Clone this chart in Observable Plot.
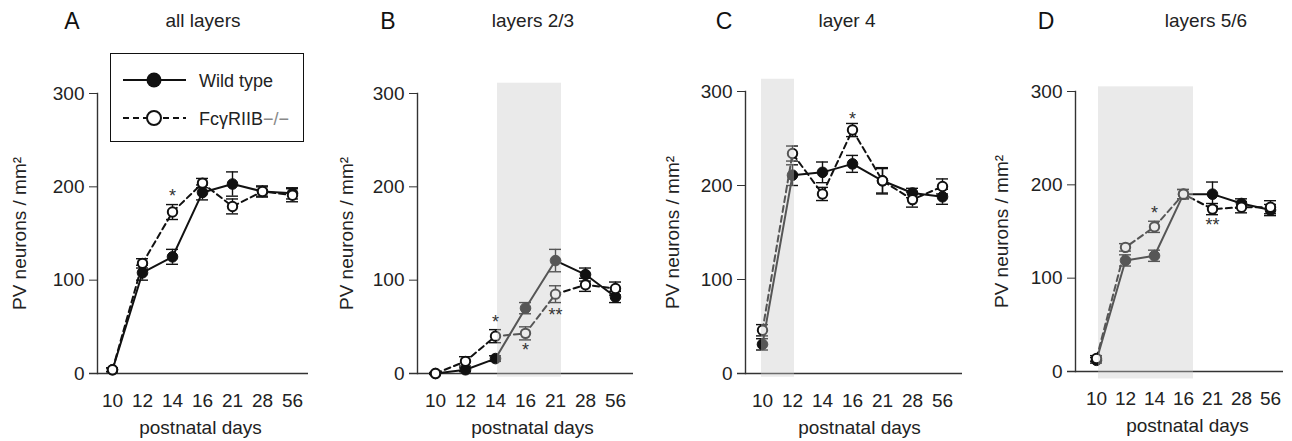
<!DOCTYPE html>
<html><head><meta charset="utf-8">
<script src="https://cdn.jsdelivr.net/npm/d3@7"></script>
<script src="https://cdn.jsdelivr.net/npm/@observablehq/plot@0.6"></script>
<style>
body{margin:0;background:#fff;font-family:"Liberation Sans",Arial,sans-serif;}
#wrap{position:relative;width:1292px;height:441px;overflow:hidden;background:#fff;}
#wrap svg.plot{position:absolute;top:0;max-width:none;background:none;overflow:visible;}
.lbl{position:absolute;transform:translate(-50%,-50%);white-space:nowrap;color:#222;}
#legend{position:absolute;left:110px;top:53px;width:192px;height:87px;border:1.6px solid #111;background:#fff;}
</style></head><body><div id="wrap"></div>
<script>
// ---------- data ----------
const days = ["10","12","14","16","21","28","56"];
const panelLetters = ["A","B","C","D"];
const panelTitles = ["all layers","layers 2/3","layer 4","layers 5/6"];
const yTicks = [0,100,200,300];
const yLabel = "PV neurons / mm²";
const xLabel = "postnatal days";
const seriesNames = ["Wild type","FcγRIIB"];
const seriesSuffix = ["","−/−"];

const wtMean = [
  [4,108,125,194,203,195,193],
  [0,4,16,70,121,106,82],
  [31,211,214,223,205,192,188],
  [12,119,124,190,190,180,173]
];
const wtErr = [
  [2,8,8,8,13,6,6],
  [1,2,3,6,12,7,6],
  [6,11,11,9,14,5,8],
  [3,6,6,5,13,5,6]
];
const koMean = [
  [4,118,173,204,179,195,191],
  [0,13,40,43,85,95,91],
  [46,234,191,259,205,185,199],
  [14,133,155,190,174,176,176]
];
const koErr = [
  [2,5,8,5,8,5,7],
  [1,5,7,7,9,7,7],
  [6,8,7,7,13,8,8],
  [3,4,6,5,6,6,7]
];
const shadeFrom = [null,"14","10","10"];
const shadeTo   = [null,"21","12","16"];
const shadeLow  = [null,-4,-4,-8];
const shadeHigh = [null,311,313,305];
const sigDay   = [["14"],["14","16","21"],["16"],["14","21"]];
const sigValue = [[190],[55,25,62],[270],[170,157]];
const sigText  = [["*"],["*","*","**"],["*"],["*","**"]];

// ---------- layout (pixels) ----------
const layout = [
  {axis:97,  x10:110,  x56:293,  end:308,  labX:200,  top:93, zero:373, letterX:72,   titleX:203, yLabOff:85, shadeIn:[0,0]},
  {axis:417, x10:433,  x56:617,  end:633,  labX:532,  top:93, zero:373, letterX:388,  titleX:533, yLabOff:78, shadeIn:[2,-6]},
  {axis:745, x10:761,  x56:943,  end:962,  labX:859,  top:91, zero:373, letterX:724,  titleX:847, yLabOff:80, shadeIn:[-1,-2]},
  {axis:1075,x10:1093, x56:1272, end:1283, labX:1187, top:91, zero:371, letterX:1046, titleX:1206,yLabOff:81, shadeIn:[2,-10]}
];
const H = 441, ML = 97;
const wrap = document.getElementById("wrap");
const rows = (m, e) => days.map((d, i) => ({day: d, v: m[i], e: e[i]}));

layout.forEach((L, p) => {
  const left = L.axis - ML;
  const frameRight = 2 * L.labX - L.axis;   // so the x label centers where it does in the reference
  const W = frameRight - left + 2;
  const MR = 2;
  const wt = rows(wtMean[p], wtErr[p]);
  const ko = rows(koMean[p], koErr[p]);
  const sig = sigDay[p].map((d, i) => ({day: d, v: sigValue[p][i], t: sigText[p][i]}));
  const ink = "#111";
  const err = (data) => [
    Plot.ruleX(data, {x: "day", y1: d => d.v - d.e, y2: d => d.v + d.e, stroke: ink, strokeWidth: 1.4}),
    Plot.ruleY(data, {x1: "day", x2: "day", y: d => d.v - d.e, stroke: ink, strokeWidth: 1.4, insetLeft: -6, insetRight: -6}),
    Plot.ruleY(data, {x1: "day", x2: "day", y: d => d.v + d.e, stroke: ink, strokeWidth: 1.4, insetLeft: -6, insetRight: -6})
  ];
  const marks = [
    Plot.frame({anchor: "left", stroke: "#333", strokeWidth: 1.4}),
    Plot.ruleY([0], {stroke: "#333", strokeWidth: 1.4, insetLeft: -8, insetRight: frameRight - L.end}),
    Plot.axisY({ticks: yTicks, tickSize: 8, tickPadding: 5, stroke: "#333", fill: "#222", fontSize: 19,
      label: yLabel, labelAnchor: "center", labelOffset: L.yLabOff, labelArrow: false}),
    Plot.axisX({tickSize: 0, tickPadding: 20, fill: "#222", fontSize: 19,
      label: xLabel, labelAnchor: "center", labelOffset: 60, labelArrow: false}),
    ...err(ko),
    ...err(wt),
    Plot.line(wt, {x: "day", y: "v", stroke: ink, strokeWidth: 2}),
    Plot.line(ko, {x: "day", y: "v", stroke: ink, strokeWidth: 2, strokeDasharray: "6,4"}),
    Plot.dot(wt, {x: "day", y: "v", r: 5.3, fill: ink, stroke: ink, strokeWidth: 1}),
    Plot.dot(ko, {x: "day", y: "v", r: 4.7, fill: "white", stroke: ink, strokeWidth: 2})
  ];
  if (shadeFrom[p]) {
    marks.push(Plot.rect([{a: shadeFrom[p], b: shadeTo[p], lo: shadeLow[p], hi: shadeHigh[p]}],
      {x1: "a", x2: "b", y1: "lo", y2: "hi", fill: "#c8c8c8", fillOpacity: 0.38,
       insetLeft: L.shadeIn[0], insetRight: L.shadeIn[1]}));
  }
  marks.push(Plot.text(sig, {x: "day", y: "v", text: "t", fontSize: 18, fill: "#333"}));
  const chart = Plot.plot({
    width: W, height: H,
    marginLeft: ML, marginRight: MR, marginTop: L.top, marginBottom: H - L.zero,
    style: {fontSize: "19px", fontFamily: "'Liberation Sans', Arial, sans-serif", color: "#222", background: "none", overflow: "visible"},
    x: {type: "point", domain: days, range: [L.x10 - left, L.x56 - left], padding: 0},
    y: {domain: [0, 300]},
    marks
  });
  chart.classList.add("plot");
  chart.style.left = left + "px";
  wrap.appendChild(chart);

  const letter = document.createElement("div");
  letter.className = "lbl"; letter.textContent = panelLetters[p];
  letter.style.cssText += `left:${L.letterX}px;top:21px;font-size:23px;color:#111;`;
  wrap.appendChild(letter);
  const title = document.createElement("div");
  title.className = "lbl"; title.textContent = panelTitles[p];
  title.style.cssText += `left:${L.titleX}px;top:21px;font-size:19px;`;
  wrap.appendChild(title);
});

// legend
const leg = document.createElement("div");
leg.id = "legend";
leg.innerHTML = `<svg width="192" height="87" style="position:absolute;left:0;top:0">
  <line x1="12" x2="75" y1="26" y2="26" stroke="#111" stroke-width="2"/>
  <circle cx="43" cy="26" r="7.5" fill="#111"/>
  <line x1="12" x2="75" y1="64" y2="64" stroke="#111" stroke-width="2" stroke-dasharray="6,4"/>
  <circle cx="43" cy="64" r="7" fill="#fff" stroke="#111" stroke-width="2"/>
  <text x="88" y="33" font-size="18" fill="#222" font-family="Liberation Sans, Arial">${seriesNames[0]}</text>
  <text x="88" y="71" font-size="18" fill="#222" font-family="Liberation Sans, Arial">${seriesNames[1]}<tspan fill="#888">${seriesSuffix[1]}</tspan></text>
</svg>`;
wrap.appendChild(leg);
</script></body></html>
